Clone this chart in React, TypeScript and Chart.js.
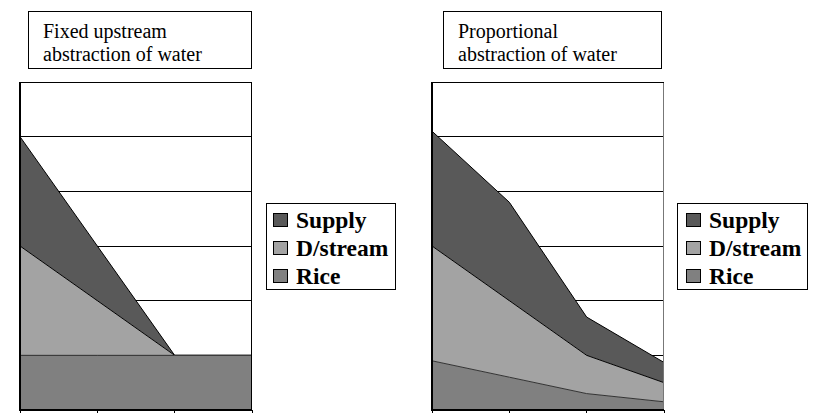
import React, { useEffect, useRef } from "react";
import { Chart, registerables } from "chart.js";

Chart.register(...registerables);

const categories = ["P1", "P2", "P3", "P4"];
const yTicksMax = 6;

const fixedRice = [1, 1, 1, 1];
const fixedDstream = [2, 1, 0, 0];
const fixedSupply = [2, 1, 0, 0];

const propRice = [0.9, 0.6, 0.3, 0.15];
const propDstream = [2.1, 1.4, 0.7, 0.35];
const propSupply = [2.1, 1.8, 0.7, 0.37];

const seriesNames = ["Supply", "D/stream", "Rice"];
const COLORS: Record<string, string> = {
  Supply: "#595959",
  "D/stream": "#a3a3a3",
  Rice: "#808080",
};

const SERIF = '"Liberation Serif", "Times New Roman", Times, serif';

function makeFrame(rightColor: string) {
  return {
    id: "frame",
    afterDatasetsDraw(chart: any) {
      const { ctx, chartArea } = chart;
      const { left, top, right, bottom } = chartArea;
      ctx.save();
      ctx.lineWidth = 1;
      ctx.strokeStyle = rightColor;
      ctx.beginPath();
      ctx.moveTo(Math.round(right) - 0.5, top);
      ctx.lineTo(Math.round(right) - 0.5, bottom);
      ctx.stroke();
      ctx.strokeStyle = "#000";
      ctx.beginPath();
      ctx.moveTo(left, Math.round(top) + 0.5);
      ctx.lineTo(right, Math.round(top) + 0.5);
      ctx.stroke();
      ctx.lineWidth = 2;
      ctx.beginPath();
      ctx.moveTo(Math.round(left), top);
      ctx.lineTo(Math.round(left), bottom + 1);
      ctx.stroke();
      ctx.beginPath();
      ctx.moveTo(left - 1, Math.round(bottom));
      ctx.lineTo(right, Math.round(bottom));
      ctx.stroke();
      ctx.restore();
    },
  };
}

function AreaPanel(props: {
  left: number;
  rice: number[];
  dstream: number[];
  supply: number[];
  rightColor: string;
}) {
  const ref = useRef<HTMLCanvasElement | null>(null);
  useEffect(() => {
    if (!ref.current) return;
    const mk = (label: string, data: number[], fill: any, border: string) => ({
      label,
      data,
      fill,
      backgroundColor: COLORS[label],
      borderColor: border,
      borderWidth: 1,
      pointRadius: 0,
      tension: 0,
    });
    const chart = new Chart(ref.current, {
      type: "line",
      data: {
        labels: categories,
        datasets: [
          mk("Rice", props.rice, "origin", "#333"),
          mk("D/stream", props.dstream, "-1", "#000"),
          mk("Supply", props.supply, "-1", "#000"),
        ],
      },
      options: {
        animation: false,
        responsive: false,
        layout: { padding: { left: 20, top: 82, right: 8, bottom: 0 } },
        plugins: {
          legend: { display: false },
          tooltip: { enabled: false },
          title: { display: false },
        },
        scales: {
          x: {
            offset: false,
            grid: {
              drawOnChartArea: false,
              drawTicks: true,
              tickLength: 3,
              color: "#000",
            },
            border: { display: false },
            ticks: { display: false },
          },
          y: {
            stacked: true,
            min: 0,
            max: yTicksMax,
            ticks: { display: false, stepSize: 1 },
            grid: { drawTicks: false, color: "#000", lineWidth: 1 },
            border: { display: false },
          },
        },
      },
      plugins: [makeFrame(props.rightColor)],
    });
    return () => chart.destroy();
  }, []);
  return (
    <canvas
      ref={ref}
      width={260}
      height={413}
      style={{ position: "absolute", left: props.left, top: 0, width: 260, height: 413, display: "block" }}
    />
  );
}

function TitleBox(props: { left: number; width: number; lines: string[] }) {
  return (
    <div
      style={{
        position: "absolute",
        left: props.left,
        top: 11,
        width: props.width,
        height: 58,
        boxSizing: "border-box",
        border: "1px solid #000",
        background: "#fff",
        paddingLeft: 14,
        paddingTop: 8,
        fontFamily: SERIF,
        fontSize: 20,
        lineHeight: "23px",
        color: "#000",
        whiteSpace: "nowrap",
      }}
    >
      {props.lines.map((l, i) => (
        <div key={i}>{l}</div>
      ))}
    </div>
  );
}

function Legend(props: { left: number; width: number; sqLeft: number; textLeft: number }) {
  return (
    <div
      style={{
        position: "absolute",
        left: props.left,
        top: 203,
        width: props.width,
        height: 87,
        boxSizing: "border-box",
        border: "1px solid #000",
        background: "#fff",
        paddingTop: 1.5,
        fontFamily: SERIF,
        fontWeight: "bold",
        fontSize: 23.5,
        lineHeight: "28px",
        color: "#000",
        whiteSpace: "nowrap",
      }}
    >
      {seriesNames.map((n) => (
        <div key={n} style={{ position: "relative", height: 28 }}>
          <div
            style={{
              position: "absolute",
              left: props.sqLeft,
              top: 7,
              width: 15,
              height: 14,
              boxSizing: "border-box",
              border: "1px solid #000",
              background: COLORS[n],
            }}
          />
          <div style={{ position: "absolute", left: props.textLeft, top: 0 }}>{n}</div>
        </div>
      ))}
    </div>
  );
}

export default function App() {
  return (
    <div style={{ position: "fixed", left: 0, top: 0, width: 814, height: 413, background: "#fff", overflow: "hidden" }}>
      <AreaPanel left={0} rice={fixedRice} dstream={fixedDstream} supply={fixedSupply} rightColor="#000" />
      <AreaPanel left={412} rice={propRice} dstream={propDstream} supply={propSupply} rightColor="#777" />
      <TitleBox left={28} width={224} lines={["Fixed upstream", "abstraction of water"]} />
      <TitleBox left={443} width={219} lines={["Proportional", "abstraction of water"]} />
      <Legend left={266} width={130} sqLeft={6} textLeft={29} />
      <Legend left={677} width={131} sqLeft={8} textLeft={31} />
    </div>
  );
}
